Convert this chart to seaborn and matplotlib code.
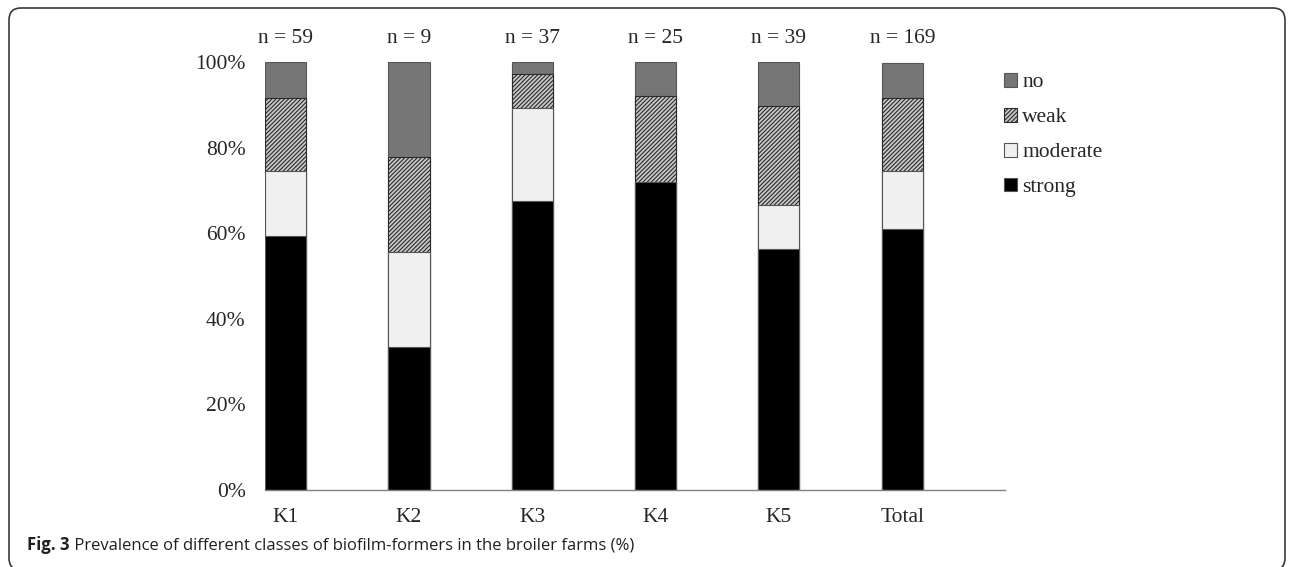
import matplotlib
matplotlib.use('Agg')
import matplotlib.pyplot as plt
import matplotlib.transforms as mtransforms
import seaborn as sns
import pandas as pd
from matplotlib.patches import Patch, FancyBboxPatch

# values (% of isolates per farm)
farms = ['K1', 'K2', 'K3', 'K4', 'K5', 'Total']
n_isolates = [59, 9, 37, 25, 39, 169]
strong = [59.3, 33.3, 67.6, 72.0, 56.4, 60.9]
moderate = [15.3, 22.2, 21.6, 0.0, 10.3, 13.6]
weak = [16.9, 22.2, 8.1, 20.0, 23.1, 17.2]
no = [8.5, 22.2, 2.7, 8.0, 10.3, 8.0]
y_ticks = [0, 20, 40, 60, 80, 100]
classes = ['no', 'weak', 'moderate', 'strong']

sns.set_style('white')
plt.rcParams['font.family'] = ['Liberation Serif', 'DejaVu Serif']
plt.rcParams['hatch.linewidth'] = 0.8

df = pd.DataFrame({'farm': farms, 'strong': strong, 'moderate': moderate,
                   'weak': weak, 'no': no})
# stacked heights, drawn from the tallest down so each layer covers the one below
df['c_strong'] = df['strong']
df['c_moderate'] = df['c_strong'] + df['moderate']
df['c_weak'] = df['c_moderate'] + df['weak']
df['c_no'] = df['c_weak'] + df['no']

styles = {
    'no':       dict(color='#767676', hatch=None, edge='#555555'),
    'weak':     dict(color='#c8c8c8', hatch='////////', edge='#2a2a2a'),
    'moderate': dict(color='#f0f0f0', hatch=None, edge='#555555'),
    'strong':   dict(color='#000000', hatch=None, edge='#555555'),
}

fig = plt.figure(figsize=(12.92, 5.67), dpi=100)
ax = fig.add_axes([265 / 1292, 77 / 567, 740 / 1292, 428 / 567])

for cls in classes:
    st = styles[cls]
    sns.barplot(data=df, x='farm', y='c_' + cls, color=st['color'], saturation=1,
                width=0.333, edgecolor=st['edge'], linewidth=0.8, hatch=st['hatch'],
                ax=ax)

txt_col = '#262626'
ax.set_xlim(-0.168, 5.833)
ax.set_ylim(0, 100)
ax.set_xlabel('')
ax.set_ylabel('')
ax.set_yticks(y_ticks, labels=[f'{t}%' for t in y_ticks])
ax.tick_params(axis='y', length=0, pad=14, labelsize=15.5, labelcolor=txt_col)
ax.tick_params(axis='x', length=0, pad=13, labelsize=15.5, labelcolor=txt_col)
sns.despine(ax=ax, left=True)
ax.spines['bottom'].set_color('#808080')
ax.spines['bottom'].set_linewidth(1.0)

trans = mtransforms.blended_transform_factory(ax.transData, ax.transAxes)
for i, n in enumerate(n_isolates):
    ax.text(i, 1.056, f'n = {n}', transform=trans, ha='center', va='center',
            fontsize=15.5, color=txt_col)

handles = [Patch(facecolor=styles[c]['color'], edgecolor=styles[c]['edge'],
                 hatch=styles[c]['hatch'], linewidth=0.8) for c in classes]
fig.legend(handles, classes, loc='upper left',
           bbox_to_anchor=(1004 / 1292, 1 - 73 / 567), frameon=False,
           fontsize=15.5, handlelength=0.6, handleheight=0.6, handletextpad=0.25,
           labelspacing=0.72, borderpad=0, borderaxespad=0, labelcolor=txt_col)

# rounded frame round the figure
frame = FancyBboxPatch((9, -3), 1276, 562, boxstyle='round,pad=0,rounding_size=12',
                       transform=None, facecolor='none', edgecolor='#3a3a3a',
                       linewidth=1.2)
fig.patches.append(frame)

cap = fig.text(27 / 1292, 17 / 567, 'Fig. 3', fontsize=12.0, fontweight='bold',
               family=['Open Sans', 'DejaVu Sans'], color='#231f20', va='baseline')
fig.canvas.draw()
ax.annotate(' Prevalence of different classes of biofilm-formers in the broiler farms (%)',
            xy=(1, 0), xycoords=cap, va='bottom', ha='left', fontsize=12.0,
            family=['Open Sans', 'DejaVu Sans'], color='#231f20',
            annotation_clip=False)

fig.savefig('out.png', dpi=100)
